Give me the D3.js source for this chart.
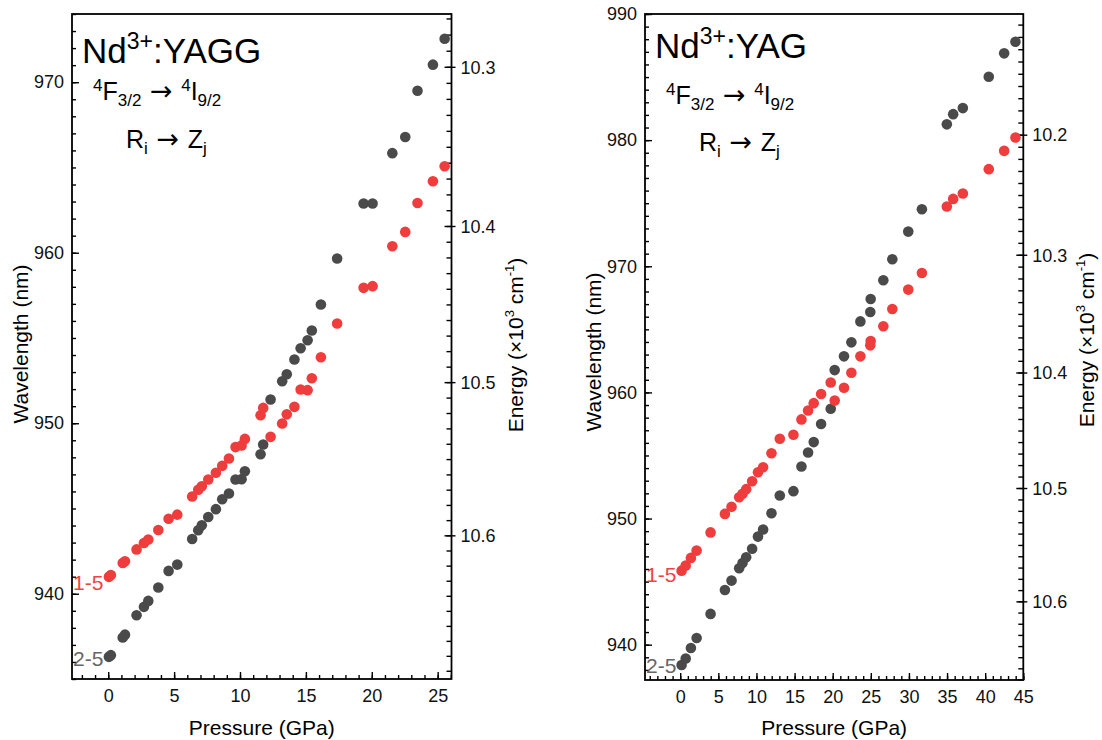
<!DOCTYPE html>
<html>
<head>
<meta charset="utf-8">
<script src="https://cdn.jsdelivr.net/npm/d3@7"></script>
<style>
  body { margin: 0; background: #fff; }
  svg { font-family: "Liberation Sans", Arial, sans-serif; }
  .tick text { font-size: 18px; fill: #111; }
  .arrow { font-family: "DejaVu Sans", sans-serif; font-size: 27px; }
</style>
</head>
<body>
<svg id="chart" width="1102" height="740"></svg>
<script>
// YAGG panel: pressure (GPa), wavelength (nm) of the 1-5 and 2-5 lines
const yaggPressure = [0.05, 0.2, 1.1, 1.27, 2.15, 2.71, 3.04, 3.8, 4.58, 5.24, 6.37, 6.83, 7.1, 7.59, 8.17, 8.65, 9.16, 9.66, 10.12, 10.37,
  11.56, 11.76, 12.32, 13.2, 13.55, 14.13, 14.6, 15.13, 15.45, 16.14, 17.37, 19.38, 20.06, 21.56, 22.54, 23.47, 24.64, 25.53]
const yagg15 = [940.99, 941.1, 941.8, 941.9, 942.6, 942.98, 943.18, 943.74, 944.4, 944.64, 945.7, 946.1, 946.3, 946.7, 947.1, 947.5, 947.93, 948.6, 948.7, 949.08,
  950.47, 950.9, 949.2, 949.98, 950.52, 950.96, 951.98, 951.94, 952.64, 953.87, 955.85, 957.94, 958.04, 960.38, 961.22, 962.92, 964.19, 965.07]
const yagg25 = [936.3, 936.4, 937.43, 937.6, 938.74, 939.23, 939.58, 940.37, 941.34, 941.71, 943.21, 943.72, 944.02, 944.5, 944.96, 945.54, 945.88, 946.7, 946.72, 947.18,
  948.18, 948.75, 951.39, 952.46, 952.87, 953.74, 954.4, 954.87, 955.44, 956.96, 959.66, 962.89, 962.89, 965.84, 966.79, 969.5, 971.03, 972.55]

// YAG panel
const yagPressure = [0.18, 0.72, 1.4, 2.15, 3.98, 5.86, 6.73, 7.73, 8.17, 8.65, 9.43, 10.2, 10.87, 11.97, 13.06, 14.85, 15.9, 16.77, 17.51, 18.48,
  19.74, 20.26, 21.48, 22.45, 23.63, 24.93, 24.98, 26.64, 27.82, 29.91, 31.7, 34.97, 35.8, 37.07, 40.47, 42.49, 43.97]
const yag15 = [945.87, 946.27, 946.88, 947.46, 948.9, 950.37, 950.93, 951.69, 951.96, 952.33, 952.96, 953.67, 954.07, 955.18, 956.33, 956.64, 957.86, 958.57, 959.15, 959.87,
  960.78, 959.35, 960.37, 961.56, 962.86, 963.73, 964.07, 965.24, 966.61, 968.15, 969.47, 974.74, 975.34, 975.77, 977.7, 979.15, 980.21]
const yag25 = [938.39, 938.91, 939.74, 940.53, 942.44, 944.34, 945.08, 946.06, 946.48, 946.93, 947.6, 948.57, 949.13, 950.42, 951.83, 952.17, 954.13, 955.24, 956.06, 957.5,
  958.7, 961.77, 962.86, 963.97, 965.63, 966.37, 967.4, 968.89, 970.56, 972.75, 974.52, 981.25, 982.06, 982.54, 985.02, 986.88, 987.8]

// tick labels
const yaggXTicks = [0, 5, 10, 15, 20, 25]
const yagXTicks = [0, 5, 10, 15, 20, 25, 30, 35, 40, 45]
const yaggWlTicks = [940, 950, 960, 970]
const yagWlTicks = [940, 950, 960, 970, 980, 990]
const yaggETicks = [10.3, 10.4, 10.5, 10.6]
const yagETicks = [10.2, 10.3, 10.4, 10.5, 10.6]

const gray = '#4a4a4a'
const red = '#ef3c3c'
const svg = d3.select('#chart')

function panel(o) {
  const x = d3.scaleLinear().domain(o.xDom).range([o.left, o.right])
  const y = d3.scaleLinear().domain(o.yDom).range([o.bottom, o.top])
  const g = svg.append('g')

  // eje inferior
  g.append('g').attr('transform', `translate(0,${o.bottom})`)
    .call(d3.axisBottom(x).tickValues(d3.range(Math.ceil(o.xDom[0]), o.xDom[1] + 0.01, 1)).tickSize(-4).tickFormat(''))
  g.append('g').attr('transform', `translate(0,${o.bottom})`)
    .call(d3.axisBottom(x).tickValues(o.xTicks).tickSize(-7).tickPadding(10).tickFormat(d3.format('d')))

  // eje izquierdo
  g.append('g').attr('transform', `translate(${o.left},0)`)
    .call(d3.axisLeft(y).tickValues(d3.range(Math.ceil(o.yDom[0]), o.yDom[1] + 0.01, 1)).tickSize(-4).tickFormat(''))
  g.append('g').attr('transform', `translate(${o.left},0)`)
    .call(d3.axisLeft(y).tickValues(o.yTicks).tickSize(-7).tickPadding(8).tickFormat(d3.format('d')))

  g.selectAll('.domain').remove()
  g.selectAll('.tick line').attr('stroke', '#000').attr('stroke-width', 1.4)

  // eje derecho: energía = 1e4 / longitud de onda
  const eMin = Math.ceil(1e4 / o.yDom[1] * 100) / 100
  const eMax = 1e4 / o.yDom[0]
  const minorE = d3.range(Math.round(eMin * 100), Math.floor(eMax * 100) + 1).map(v => v / 100)
  g.selectAll('.eminor').data(minorE).join('line')
    .attr('x1', o.right - 5).attr('x2', o.right)
    .attr('y1', d => y(1e4 / d)).attr('y2', d => y(1e4 / d))
    .attr('stroke', '#000').attr('stroke-width', 1.4)
  g.selectAll('.emajor').data(o.eTicks).join('line')
    .attr('x1', o.right - 7).attr('x2', o.right + 4)
    .attr('y1', d => y(1e4 / d)).attr('y2', d => y(1e4 / d))
    .attr('stroke', '#000').attr('stroke-width', 1.4)
  g.selectAll('.elabel').data(o.eTicks).join('text')
    .attr('x', o.right + 9).attr('y', d => y(1e4 / d)).attr('dy', '0.35em')
    .attr('font-size', 18).attr('fill', '#111')
    .text(d => d.toFixed(1))

  // marco
  g.append('rect').attr('x', o.left).attr('y', o.top)
    .attr('width', o.right - o.left).attr('height', o.bottom - o.top)
    .attr('fill', 'none').attr('stroke', '#000').attr('stroke-width', 1.8)

  // puntos
  const pts = g.append('g')
  pts.selectAll('.p25').data(o.p.map((p, i) => [p, o.s25[i]])).join('circle')
    .attr('cx', d => x(d[0])).attr('cy', d => y(d[1])).attr('r', 5.3).attr('fill', gray)
  pts.selectAll('.p15').data(o.p.map((p, i) => [p, o.s15[i]])).join('circle')
    .attr('cx', d => x(d[0])).attr('cy', d => y(d[1])).attr('r', 5.3).attr('fill', red)

  // etiquetas de series
  g.append('text').attr('x', o.left + 1).attr('y', o.lab15).attr('font-size', 21).attr('fill', '#f04444').text('1-5')
  g.append('text').attr('x', o.left + 1).attr('y', o.lab25).attr('font-size', 21).attr('fill', '#666').text('2-5')

  // títulos
  const tx = o.left + 10
  const t1 = g.append('text').attr('x', tx).attr('y', o.t1).attr('font-size', 35).attr('fill', '#000')
  t1.append('tspan').text('Nd')
  t1.append('tspan').attr('font-size', 23).attr('dy', -14).text('3+')
  t1.append('tspan').attr('dy', 14).text(':' + o.name)

  const t2 = g.append('text').attr('x', tx + 11).attr('y', o.t2).attr('font-size', 25).attr('fill', '#000')
  t2.append('tspan').attr('font-size', 17).attr('dy', -9).text('4')
  t2.append('tspan').attr('dy', 9).text('F')
  t2.append('tspan').attr('font-size', 17).attr('dy', 6).text('3/2')
  t2.append('tspan').attr('dy', -6).attr('class', 'arrow').text(' \u2192 ')
  t2.append('tspan').attr('font-size', 17).attr('dy', -9).text('4')
  t2.append('tspan').attr('dy', 9).text('I')
  t2.append('tspan').attr('font-size', 17).attr('dy', 6).text('9/2')

  const t3 = g.append('text').attr('x', tx + 44).attr('y', o.t3).attr('font-size', 25).attr('fill', '#000')
  t3.append('tspan').text('R')
  t3.append('tspan').attr('font-size', 17).attr('dy', 6).text('i')
  t3.append('tspan').attr('dy', -6).attr('class', 'arrow').text(' \u2192 ')
  t3.append('tspan').text('Z')
  t3.append('tspan').attr('font-size', 17).attr('dy', 6).text('j')

  // títulos de ejes
  g.append('text').attr('x', (o.left + o.right) / 2).attr('y', 735)
    .attr('text-anchor', 'middle').attr('font-size', 21).text('Pressure (GPa)')
  g.append('text').attr('transform', `translate(${o.left - 44},${o.yTitle}) rotate(-90)`)
    .attr('text-anchor', 'middle').attr('font-size', 21).text('Wavelength (nm)')
  const et = g.append('text').attr('transform', `translate(${o.right + 71},${o.eTitle}) rotate(-90)`)
    .attr('text-anchor', 'middle').attr('font-size', 21)
  et.append('tspan').text('Energy (\u00d710')
  et.append('tspan').attr('font-size', 13).attr('dy', -9).text('3')
  et.append('tspan').attr('dy', 9).text(' cm')
  et.append('tspan').attr('font-size', 13).attr('dy', -9).text('-1')
  et.append('tspan').attr('dy', 9).text(')')
}

panel({
  name: 'YAGG', p: yaggPressure, s15: yagg15, s25: yagg25,
  xDom: [-2.75, 26.05], yDom: [935, 974], left: 72, right: 451.5, top: 14, bottom: 679,
  xTicks: yaggXTicks, yTicks: yaggWlTicks, eTicks: yaggETicks,
  lab15: 590, lab25: 666, t1: 63, t2: 100, t3: 148, yTitle: 344, eTitle: 345
})
panel({
  name: 'YAG', p: yagPressure, s15: yag15, s25: yag25,
  xDom: [-4.62, 45.0], yDom: [937.2, 990], left: 645, right: 1023.3, top: 14, bottom: 680,
  xTicks: yagXTicks, yTicks: yagWlTicks, eTicks: yagETicks,
  lab15: 582, lab25: 673, t1: 58, t2: 104, t3: 151, yTitle: 352, eTitle: 340
})
</script>
</body>
</html>
